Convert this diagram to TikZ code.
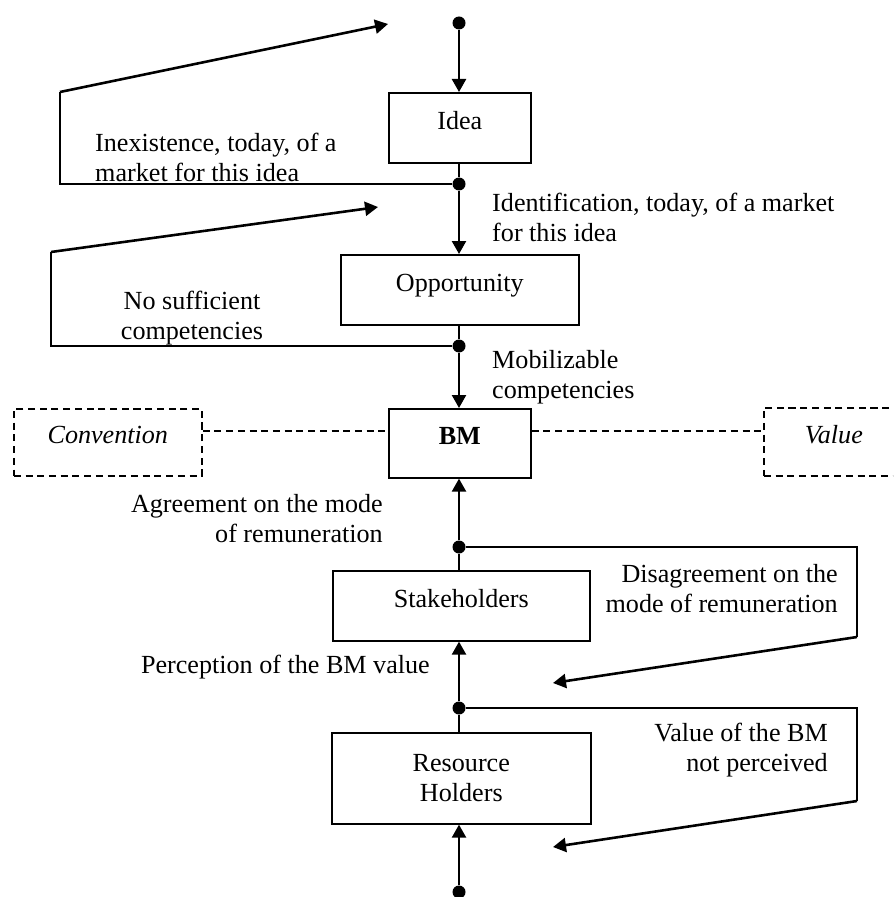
\documentclass[tikz,border=0pt]{standalone}
\usepackage{fontspec}
\setmainfont{Liberation Serif}
\usepackage{tikz}
\usetikzlibrary{arrows.meta,positioning,calc}

\begin{document}
\begin{tikzpicture}[
  every node/.style={font=\fontsize{22.3}{25.6}\selectfont},
  >={Triangle[length=0.39cm,width=0.42cm]},
  box/.style={draw, line width=1.4pt, inner sep=0pt, text depth=0.44cm},
  dashbox/.style={draw, line width=1.4pt, dash pattern=on 6pt off 4pt, inner sep=0pt, text depth=0.44cm, font=\fontsize{22.3}{25.6}\selectfont\itshape},
  dot/.style={circle, fill, inner sep=0pt, minimum size=0.39cm},
  flow/.style={line width=2pt},
  link/.style={line width=1.4pt},
  back/.style={line width=2.2pt},
  dashline/.style={line width=1.4pt, dash pattern=on 6pt off 4pt},
  txt/.style={inner sep=0pt}
]


\coordinate(O1) at (0,0);
\useasboundingbox (O1) rectangle (26.79,-26.91);
\clip (O1) rectangle (26.79,-26.91);

\node[below right=2.76cm and 11.64cm of O1, box, minimum width=4.26cm, minimum height=2.1cm](idea) {Idea};
\node[below right=7.62cm and 10.2cm of O1, box, minimum width=7.14cm, minimum height=2.1cm](opp) {Opportunity};
\node[below right=12.24cm and 11.64cm of O1, box, minimum width=4.26cm, minimum height=2.07cm](bm) {\bfseries BM};
\node[below right=12.24cm and 0.39cm of O1, dashbox, minimum width=5.64cm, minimum height=2.01cm](conv) {Convention};
\node[below right=12.21cm and 22.89cm of O1, dashbox, minimum width=4.2cm, minimum height=2.04cm](val) {Value};
\node[below right=17.1cm and 9.96cm of O1, box, minimum width=7.71cm, minimum height=2.1cm](stake) {Stakeholders};
\node[below right=21.96cm and 9.93cm of O1, box, align=center, text depth={}, minimum width=7.77cm, minimum height=2.73cm](res) {Resource\\Holders};

\node[dot](d0) at (13.77,-0.69) {};
\node[dot](d1) at (13.77,-5.52) {};
\node[dot](d2) at (13.77,-10.38) {};
\node[dot](d3) at (13.77,-16.41) {};
\node[dot](d4) at (13.77,-21.24) {};
\node[dot](d5) at (13.77,-26.76) {};

\coordinate(ib) at (1.8,-2.76);
\coordinate(ie) at (11.64,-0.72);
\coordinate(ob) at (1.53,-7.56);
\coordinate(oe) at (11.34,-6.21);
\coordinate(sb) at (25.71,-19.11);
\coordinate(se) at (16.59,-20.49);
\coordinate(rb) at (25.71,-24.03);
\coordinate(re) at (16.59,-25.41);
\coordinate(dl) at (0,-12.93);

\node[txt, anchor=west, align=left](tinex) at (2.85,-4.72) {Inexistence, today, of a\\market for this idea};
\node[txt, anchor=west, align=left](tident) at (14.76,-6.52) {Identification, today, of a market\\for this idea};
\node[txt, align=center](tnosuf) at (5.76,-9.55) {No sufficient\\competencies};
\node[txt, anchor=west, align=left](tmobil) at (14.76,-11.33) {Mobilizable\\competencies};
\node[txt, anchor=east, align=right](tagree) at (11.49,-15.57) {Agreement on the mode\\of remuneration};
\node[txt, anchor=east, align=right](tdisag) at (25.14,-17.66) {Disagreement on the\\mode of remuneration};
\node[txt, anchor=east](tperc) at (12.9,-20) {Perception of the BM value};
\node[txt, anchor=east, align=right](tnotp) at (24.84,-22.49) {Value of the BM\\not perceived};


\draw[->, flow] (d0) -- (d0 |- idea.north);
\draw[link] (idea.south -| d1) -- (d1);
\draw[->, flow] (d1) -- (d1 |- opp.north);
\draw[link] (opp.south -| d2) -- (d2);
\draw[->, flow] (d2) -- (d2 |- bm.north);
\draw[->, flow] (d3) -- (d3 |- bm.south);
\draw[link] (stake.north -| d3) -- (d3);
\draw[->, flow] (d4) -- (d4 |- stake.south);
\draw[link] (res.north -| d4) -- (d4);
\draw[->, flow] (d5) -- (d5 |- res.south);

\draw[link] (d1) -- (d1 -| ib) -- (ib);
\draw[->, back] (ib) -- (ie);
\draw[link] (d2) -- (d2 -| ob) -- (ob);
\draw[->, back] (ob) -- (oe);
\draw[link] (d3) -- (d3 -| sb) -- (sb);
\draw[->, back] (sb) -- (se);
\draw[link] (d4) -- (d4 -| rb) -- (rb);
\draw[->, back] (rb) -- (re);

\draw[dashline] (conv.east |- dl) -- (bm.west |- dl);
\draw[dashline] (bm.east |- dl) -- (val.west |- dl);
\end{tikzpicture}
\end{document}
